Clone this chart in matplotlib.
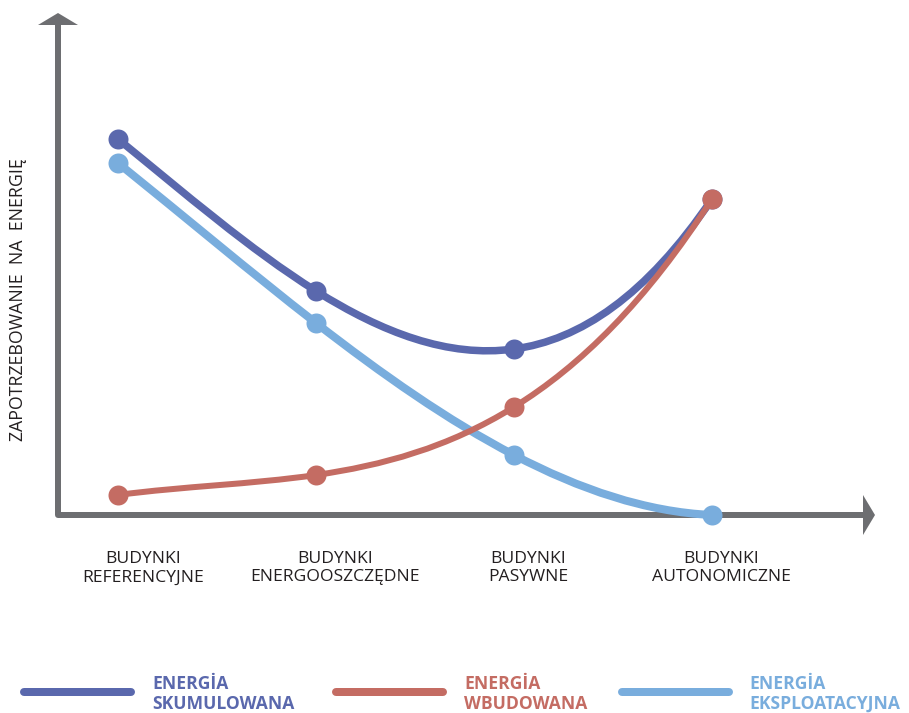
import numpy as np
import matplotlib
matplotlib.use("Agg")
import matplotlib.pyplot as plt
from matplotlib.path import Path
from matplotlib.patches import PathPatch, Polygon
from matplotlib.lines import Line2D
from matplotlib.transforms import Affine2D

# building categories along the x axis
categories = ["BUDYNKI\nREFERENCYJNE", "BUDYNKI\nENERGOOSZCZĘDNE",
              "BUDYNKI\nPASYWNE", "BUDYNKI\nAUTONOMICZNE"]

# energy demand (arbitrary units)
skumulowana = [94, 56, 41.5, 79]
wbudowana = [5, 10, 27, 79]
eksploatacyjna = [88, 48, 15, 0]

series_labels = ["ENERGİA\nSKUMULOWANA", "ENERGİA\nWBUDOWANA", "ENERGİA\nEKSPLOATACYJNA"]
y_title = "ZAPOTRZEBOWANIE  NA  ENERGIĘ"

C_SKUM = "#5a68ad"
C_WBUD = "#c46c63"
C_EKSP = "#79addd"
C_AXIS = "#6d6e71"
C_TEXT = "#231f20"

W, H, DPI = 909, 713, 100
plt.rcParams["font.family"] = ["Open Sans", "DejaVu Sans"]

fig = plt.figure(figsize=(W / DPI, H / DPI), dpi=DPI)
# pixel coordinates measured from the top-left corner
px = Affine2D().scale(1, -1).translate(0, H) + Affine2D().scale(1 / DPI) + fig.dpi_scale_trans

x0, x_end, y0, y_end = 58, 875, 515, 13
ax = fig.add_axes([x0 / W, (H - y0) / H, (x_end - x0) / W, (y0 - y_end) / H])
ax.set_xlim(-60 / 198, (x_end - 118) / 198)
ax.set_ylim(0, (y0 - y_end) / 4)
ax.axis("off")
ax.set_zorder(3)

# axes with flat arrowheads
fig.add_artist(Line2D([x0, x0, 864], [24, y0, y0], transform=px, color=C_AXIS,
                      lw=6 * 0.72, solid_joinstyle="round", solid_capstyle="butt", zorder=1))
fig.add_artist(Polygon([[x0 - 20, 25], [x0 + 20, 25], [x0, y_end]], closed=True,
                       transform=px, color=C_AXIS, lw=0, zorder=1))
fig.add_artist(Polygon([[863, y0 - 20], [863, y0 + 20], [x_end, y0]], closed=True,
                       transform=px, color=C_AXIS, lw=0, zorder=1))


def smooth_path(xs, ys):
    # cubic through the points, written as bezier segments
    xs = np.asarray(xs, float)
    ys = np.asarray(ys, float)
    coef = np.polyfit(xs, ys, len(xs) - 1)
    d = np.polyval(np.polyder(coef), xs)
    verts = [(xs[0], ys[0])]
    codes = [Path.MOVETO]
    for i in range(len(xs) - 1):
        h = xs[i + 1] - xs[i]
        verts += [(xs[i] + h / 3, ys[i] + d[i] * h / 3),
                  (xs[i + 1] - h / 3, ys[i + 1] - d[i + 1] * h / 3),
                  (xs[i + 1], ys[i + 1])]
        codes += [Path.CURVE4] * 3
    return Path(verts, codes)


xpos = np.arange(len(categories))
series = [(skumulowana, C_SKUM, 7.5), (eksploatacyjna, C_EKSP, 8), (wbudowana, C_WBUD, 6)]
for z, (vals, col, lw) in enumerate(series):
    ax.add_patch(PathPatch(smooth_path(xpos, vals), fill=False, edgecolor=col,
                           lw=lw * 0.72, capstyle="round", zorder=2 + z, clip_on=False))
    ax.plot(xpos, vals, "o", ms=20 * 0.72, color=col, mec="none", zorder=2 + z,
            clip_on=False)

# category labels under the x axis
label_px = [143, 335, 528, 721]
for lx, lab in zip(label_px, categories):
    fig.text(lx, 551, lab, transform=px, ha="center", va="top", fontsize=12.6,
             color=C_TEXT, linespacing=1.2)

fig.text(18, 300, y_title, transform=px, rotation=90, ha="center", va="center",
         fontsize=12.8, color=C_TEXT)

# legend
legend_px = [(20, 153, C_SKUM), (332, 465, C_WBUD), (618, 750, C_EKSP)]
for (lx, tx, col), lab in zip(legend_px, series_labels):
    fig.add_artist(Line2D([lx + 4, lx + 111], [692, 692], transform=px, color=col,
                          lw=8 * 0.72, solid_capstyle="round"))
    fig.text(tx - 1, 694, lab, transform=px, ha="left", va="center", fontsize=12.6,
             fontweight="bold", color=col, linespacing=1.12)

fig.savefig("out.png", dpi=DPI)
